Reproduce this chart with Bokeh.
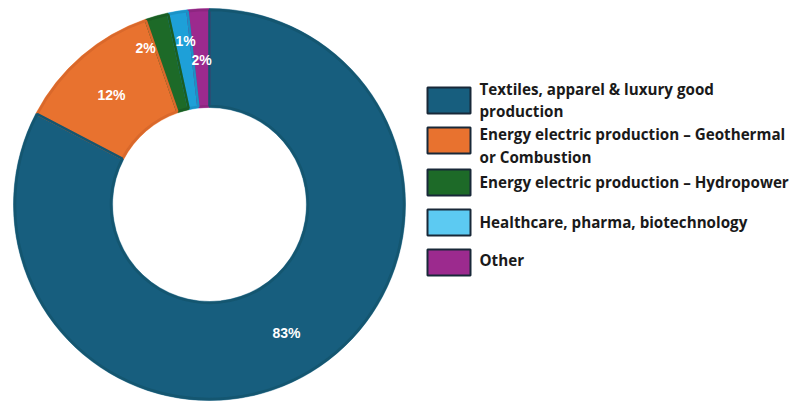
import math
from bokeh.plotting import figure
from bokeh.models import Range1d, ColumnDataSource
from bokeh.core.properties import value
from bokeh.embed import file_html
from bokeh.resources import INLINE

# ---- data ----
categories = [
    "Textiles, apparel & luxury good production",
    "Energy electric production \u2013 Geothermal or Combustion",
    "Energy electric production \u2013 Hydropower",
    "Healthcare, pharma, biotechnology",
    "Other",
]
legend_lines = [
    ["Textiles, apparel & luxury good", "production"],
    ["Energy electric production \u2013 Geothermal", "or Combustion"],
    ["Energy electric production \u2013 Hydropower"],
    ["Healthcare, pharma, biotechnology"],
    ["Other"],
]
shares = [82.7, 12.0, 1.9, 1.6, 1.8]
pct_labels = ["83%", "12%", "2%", "1%", "2%"]
slice_colors = ["#175e7e", "#e8722f", "#1d6a28", "#1ea0d8", "#9c2a8e"]
border_colors = ["#145670", "#d9682b", "#1a5e24", "#1a92c6", "#8d2680"]
legend_colors = ["#175e7e", "#e8722f", "#1d6a28", "#5ccaf2", "#9c2a8e"]

W, H = 790, 403


def fy(page_y):
    return H - page_y


def fx(page_x):
    return page_x


p = figure(width=W, height=H, output_backend="svg", toolbar_location=None,
           x_range=Range1d(0, W), y_range=Range1d(0, H), min_border=0)
p.axis.visible = False
p.grid.visible = False
p.outline_line_color = None
p.background_fill_color = "white"
p.border_fill_color = "white"

cx, cy = fx(209), fy(204)
r_out, r_in = 196, 97

# counter-clockwise from top: Other, Healthcare, Hydropower, Geothermal, Textiles
order = [4, 3, 2, 1, 0]
total = sum(shares)
starts, ends, cols, lcols = [], [], [], []
a = math.pi / 2
for i in order:
    b = a + shares[i] / total * 2 * math.pi
    starts.append(a)
    ends.append(b)
    cols.append(slice_colors[i])
    lcols.append(border_colors[i])
    a = b

src = ColumnDataSource(dict(x=[cx] * 5, y=[cy] * 5, s=starts, e=ends, c=cols, lc=lcols))
p.annular_wedge(x="x", y="y", inner_radius=r_in, outer_radius=r_out,
                start_angle="s", end_angle="e", fill_color="c",
                line_color="c", line_width=0.5, source=src)
p.annular_wedge(x="x", y="y", inner_radius=r_in + 1.5, outer_radius=r_out - 1.5,
                start_angle="s", end_angle="e", fill_color=None,
                line_color="lc", line_width=2.5, source=src)

# percentage labels (page positions)
lab_pos = [(286, 332), (111, 94), (145, 47), (185, 40), (201, 59)]
p.text(x=[fx(x) for x, _ in lab_pos], y=[fy(y) for _, y in lab_pos], text=pct_labels,
       text_color="white", text_font=value("Liberation Sans"), text_font_style="bold",
       text_font_size="14px", text_align="center", text_baseline="middle")

# legend
box_tops = [87, 127, 169, 209, 249]
text_ys = [[88, 110], [133.5, 156.5], [181.5], [221], [259.5]]
box_h = 26
for i, cat in enumerate(categories):
    top = box_tops[i]
    p.quad(left=fx(427), right=fx(470), top=fy(top), bottom=fy(top + box_h),
           fill_color=legend_colors[i], line_color="#182838", line_width=2)
    lines = legend_lines[i]
    p.text(x=[fx(479)] * len(lines), y=[fy(y) for y in text_ys[i]], text=lines,
           text_color="#1a1a1a", text_font=value("Open Sans"), text_font_style="bold",
           text_font_size="15.2px", text_align="left", text_baseline="middle")

open("out.html", "w").write(file_html(p, INLINE))
